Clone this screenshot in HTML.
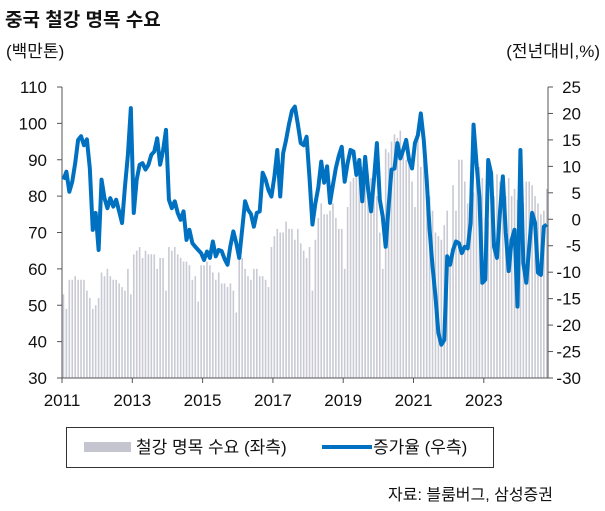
<!DOCTYPE html>
<html><head><meta charset="utf-8">
<style>
body{margin:0;background:#fff;font-family:"Liberation Sans","Noto Sans CJK KR",sans-serif;}
svg text{font-family:"Liberation Sans","Noto Sans CJK KR",sans-serif;fill:#111;}
</style></head>
<body>
<svg id="chart" width="605" height="506" viewBox="0 0 605 506">
<text x="5" y="26" font-size="19" font-weight="bold">중국 철강 명목 수요</text>
<text x="6" y="57" font-size="17">(백만톤)</text>
<text x="600" y="57" font-size="17" text-anchor="end">(전년대비,%)</text>
<g id="bars"></g>
<g id="axes"></g>
<path id="line" fill="none" stroke="#0071c1" stroke-width="4" stroke-linejoin="round"></path>
<g>
<rect x="66.5" y="427.5" width="427" height="40" fill="#fff" stroke="#333" stroke-width="1"></rect>
<rect x="84" y="442" width="47" height="10" fill="#c4c5cf"></rect>
<text x="136" y="453" font-size="17">철강 명목 수요 (좌측)</text>
<line x1="322" y1="447" x2="372" y2="447" stroke="#0071c1" stroke-width="4"></line>
<text x="373" y="453" font-size="17">증가율 (우측)</text>
</g>
<text x="553" y="500" font-size="16" text-anchor="end">자료: 블룸버그, 삼성증권</text>
</svg>
<script>
const leftTicks = [30,40,50,60,70,80,90,100,110];
const rightTicks = [25,20,15,10,5,0,-5,-10,-15,-20,-25,-30];
const yearLabels = ["2011","2013","2015","2017","2019","2021","2023"];
const demand = [
53,49,57,57,58,57,57,57,54,52,49,50,
52,59,58,60,58,57,57,56,55,54,60,53,
64,65,66,63,65,64,64,64,60,63,63,54,
66,65,66,64,63,62,62,61,57,58,51,61,
61,62,61,59,57,59,56,56,55,56,54,48,
63,63,60,58,57,60,60,58,58,57,55,66,
69,71,70,70,73,71,71,68,71,67,65,63,
66,54,68,74,78,75,75,76,78,74,71,71,
60,77,84,85,86,87,88,87,86,85,84,80,
70,60,93,92,95,97,96,98,94,90,91,84,
77,97,88,90,82,80,76,70,69,68,72,76,
62,83,76,90,90,84,78,87,81,84,88,85,
74,73,85,80,86,84,80,80,85,80,82,79,
70,78,84,84,83,80,78,75,76,82
];
const growth = [
7.5,9.0,5.2,7.1,10.6,15,15.7,14,15.1,9.6,-2,1.2,
-5.8,7.5,4,2.1,4,2.4,3.7,1.5,-0.7,6.2,12.2,21,
1.2,7.5,10.3,10.6,9.4,10.3,12.2,12.8,15.3,10.3,13,16.9,
3.7,2.1,3.4,1.2,-0.1,1.5,-3.9,-2,-4.5,-5.2,-5.8,-6.4,
-7.7,-6.1,-7.3,-4.2,-7,-5.8,-6,-7.5,-8.6,-5,-2.3,-4.5,
-7.3,-2,3.4,1.8,1.0,-1.4,1.2,1.5,8.8,7.5,5.5,4.3,
8,13.1,4.3,12.5,15,18,20.5,21.3,18,14.4,14,15.6,
7.8,-1,3,6,10.9,6.9,10,3.1,6.5,9.7,12,13.7,
7.1,10.6,13.1,12.8,8.4,11.2,3.4,11.8,5.6,1.5,7.5,14.4,
3.7,0.5,-5.2,2.4,9.4,9.6,14.4,11.5,13.1,15,11.2,9.6,
14.4,15.9,20,15,7.5,-2,-8.9,-14.6,-21.5,-23.7,-22.8,-7,
-8.6,-5.8,-4.2,-4.5,-6.4,-5.2,-5.5,-0.7,17.9,10.6,4.3,-12,
-11.4,11.2,8.7,-5.2,-7.3,1.2,8.1,-2.6,-9.8,-3.9,-2,-16.5,
13.1,-8.3,-12,-5.2,1.2,-0.7,-10.1,-10.5,-1.4,-1
];
const NS='http://www.w3.org/2000/svg';
const X0=62,X1=548,Y0=378,Y1=87,PX_YEAR=35.15;
const xm=i=>X0+(i+0.5)*PX_YEAR/12;
const yL=v=>Y0-(v-30)/(110-30)*(Y0-Y1);
const yR=v=>Y0-(v+30)/(55)*(Y0-Y1);
function mk(tag,attrs,parent){const e=document.createElementNS(NS,tag);for(const k in attrs)e.setAttribute(k,attrs[k]);parent.appendChild(e);return e;}
const bars=document.getElementById('bars');
demand.forEach((v,i)=>{
 const r=mk('rect',{x:(xm(i)-0.8).toFixed(2),y:yL(v).toFixed(2),width:1.6,height:(Y0-yL(v)).toFixed(2),fill:'#c9cad3'},bars);
 
 
});
document.getElementById('line').setAttribute('d',growth.map((v,i)=>(i?'L':'M')+xm(i).toFixed(2)+' '+yR(v).toFixed(2)).join(' '));
const ax=document.getElementById('axes');
const a1=mk('line',{x1:X0,y1:Y1,x2:X0,y2:Y0,stroke:'#555','stroke-width':1},ax);


const a2=mk('line',{x1:X1,y1:Y1,x2:X1,y2:Y0,stroke:'#555','stroke-width':1},ax);


const a3=mk('line',{x1:X0,y1:Y0,x2:X1,y2:Y0,stroke:'#555','stroke-width':1},ax);


leftTicks.forEach(v=>{
 mk('line',{x1:X0-5,y1:yL(v),x2:X0,y2:yL(v),stroke:'#555'},ax);
 const t=mk('text',{x:X0-15,y:yL(v)+6,'font-size':17,'text-anchor':'end'},ax);t.textContent=v;
 
 
});
rightTicks.forEach(v=>{
 mk('line',{x1:X1,y1:yR(v),x2:X1+5,y2:yR(v),stroke:'#555'},ax);
 const t=mk('text',{x:X1+33,y:yR(v)+6,'font-size':17,'text-anchor':'end'},ax);t.textContent=v;
 
 
});
yearLabels.forEach(s=>{
 const x=X0+(parseInt(s)-2011)*PX_YEAR;
 mk('line',{x1:x,y1:Y0,x2:x,y2:Y0+5,stroke:'#555'},ax);
 const t=mk('text',{x:x,y:Y0+28,'font-size':17,'text-anchor':'middle'},ax);t.textContent=s;
 
 
});
</script>
</body></html>
